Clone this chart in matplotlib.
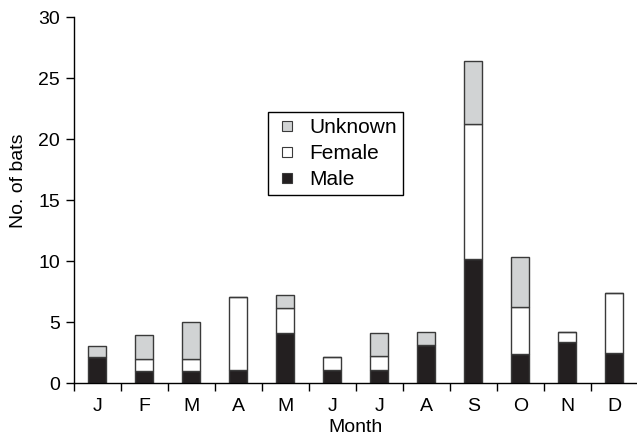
import matplotlib.pyplot as plt
from matplotlib.lines import Line2D
import numpy as np

plt.rcParams['font.family'] = ['Liberation Sans', 'DejaVu Sans']

# data
months = ['J', 'F', 'M', 'A', 'M', 'J', 'J', 'A', 'S', 'O', 'N', 'D']
male = [2.15, 0.95, 0.95, 1.05, 4.1, 1.05, 1.1, 3.15, 10.2, 2.4, 3.4, 2.45]
female = [0.0, 1.05, 1.05, 6.0, 2.05, 1.1, 1.1, 0.0, 11.0, 3.85, 0.8, 4.95]
unknown = [0.9, 1.95, 3.0, 0.0, 1.05, 0.0, 1.9, 1.05, 5.2, 4.05, 0.0, 0.0]

male = np.array(male)
female = np.array(female)
unknown = np.array(unknown)
x = np.arange(len(months))

fig = plt.figure(figsize=(6.37, 4.43), dpi=100)
ax = fig.add_axes([0.116, 0.1354, 0.885, 0.8262])

w = 0.38
ec = '#3a3a3a'
c_male, c_fem, c_unk = '#231f20', 'white', '#d1d3d4'
ax.bar(x, male, w, color=c_male, edgecolor=ec, linewidth=1)
ax.bar(x, female, w, bottom=male, color=c_fem, edgecolor=ec, linewidth=1)
ax.bar(x, unknown, w, bottom=male + female, color=c_unk, edgecolor=ec, linewidth=1)

ax.set_xlim(-0.5, 11.5)
ax.set_ylim(0, 30)
ax.set_yticks(range(0, 31, 5))
ax.set_xticks(x)
ax.set_xticklabels(months)
ax.set_xticks(np.arange(-0.5, 12, 1), minor=True)
ax.tick_params(axis='x', which='major', length=0, pad=11, labelsize=14)
ax.tick_params(axis='x', which='minor', length=6, direction='out', width=1)
ax.tick_params(axis='y', length=6, direction='out', width=1, pad=4, labelsize=14)

for s in ['top', 'right']:
    ax.spines[s].set_visible(False)
ax.spines['left'].set_linewidth(1)
ax.spines['bottom'].set_linewidth(1)

ax.set_xlabel('Month', fontsize=14, labelpad=3)
ax.set_ylabel('No. of bats', fontsize=14)
ax.yaxis.set_label_coords(-0.083, 0.552)

# legend with small square markers
handles = [Line2D([], [], marker='s', linestyle='none', markersize=7.5,
                  markerfacecolor=c, markeredgecolor=ec, markeredgewidth=0.8)
           for c in [c_unk, c_fem, c_male]]
leg = ax.legend(handles, ['Unknown', 'Female', 'Male'], loc='upper left',
                bbox_to_anchor=(0.344, 0.74), borderaxespad=0, fontsize=15,
                handlelength=1.2, labelspacing=0.33, handletextpad=0.5,
                borderpad=0.3, fancybox=False, edgecolor='black', framealpha=1)
leg.get_frame().set_linewidth(1)

plt.savefig('out.png', dpi=100)
